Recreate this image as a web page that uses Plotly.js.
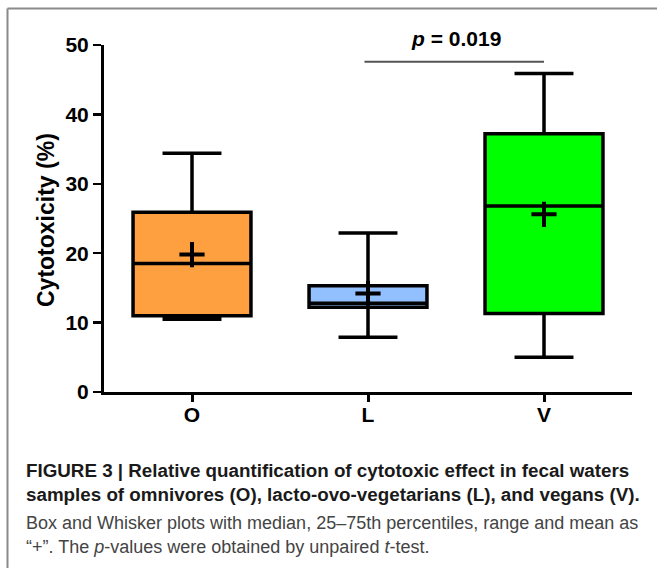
<!DOCTYPE html>
<html>
<head>
<meta charset="utf-8">
<script src="https://cdn.plot.ly/plotly-3.0.1.min.js"></script>
<style>html,body{margin:0;padding:0;background:#fff;}#chart{width:657px;height:568px;}</style>
</head>
<body>
<div id="chart"></div>
<script>
// ---- data ----
const categories = ['O', 'L', 'V'];
const q1Values = [11.0, 12.2, 11.3];
const medianValues = [18.5, 12.8, 26.8];
const q3Values = [25.9, 15.3, 37.2];
const minValues = [10.5, 7.9, 5.0];
const maxValues = [34.4, 22.9, 45.9];
const meanValues = [19.8, 14.2, 25.6];
const fillColors = ['#FFA040', '#92C0FF', '#00FF00'];
const sigPair = ['L', 'V'];
const sigY = 47.6;
const sigLabel = '<i>p</i> = 0.019';
const yTitle = 'Cytotoxicity (%)';
const captionLines = [
  {text: 'FIGURE 3 | Relative quantification of cytotoxic effect in fecal waters', bold: true},
  {text: 'samples of omnivores (O), lacto-ovo-vegetarians (L), and vegans (V).', bold: true},
  {text: 'Box and Whisker plots with median, 25\u201375th percentiles, range and mean as', bold: false},
  {text: '\u201c+\u201d. The <i>p</i>-values were obtained by unpaired <i>t</i>-test.', bold: false}
];

// ---- layout helpers (pixel -> paper) ----
const W = 657, H = 568;
const M = {l: 104, r: 25, t: 45, b: 176};
const pw = W - M.l - M.r, ph = H - M.t - M.b;
const xp = px => (px - M.l) / pw;
const yp = py => (H - M.b - py) / ph;

const FONT = 'Liberation Sans, Arial, sans-serif';

const traces = categories.map((c, i) => ({
  type: 'box',
  x: [c],
  q1: [q1Values[i]],
  median: [medianValues[i]],
  q3: [q3Values[i]],
  lowerfence: [minValues[i]],
  upperfence: [maxValues[i]],
  fillcolor: fillColors[i],
  line: {color: '#000', width: 3.5},
  width: 0.67,
  whiskerwidth: 0.5,
  boxpoints: false,
  showlegend: false,
  hoverinfo: 'skip'
}));

traces.push({
  type: 'scatter',
  mode: 'markers',
  x: categories,
  y: meanValues,
  marker: {symbol: 'cross-thin', size: 18, line: {color: '#000', width: 4}, color: '#000'},
  showlegend: false,
  hoverinfo: 'skip'
});

const capY = [470, 494, 523, 547];
const annotations = [
  {
    xref: 'paper', yref: 'paper', x: xp(46), y: yp(220),
    text: yTitle, textangle: -90, showarrow: false,
    font: {family: FONT, size: 23, color: '#000', weight: 'bold'},
    xanchor: 'center', yanchor: 'middle'
  },
  {
    xref: 'x', yref: 'y',
    x: (categories.indexOf(sigPair[0]) + categories.indexOf(sigPair[1])) / 2,
    y: sigY, yanchor: 'bottom', yshift: 10,
    text: sigLabel, showarrow: false,
    font: {family: FONT, size: 21, color: '#000', weight: 'bold'}
  }
];
captionLines.forEach((ln, i) => {
  annotations.push({
    xref: 'paper', yref: 'paper', x: xp(24), y: yp(capY[i]),
    xanchor: 'left', yanchor: 'middle', showarrow: false, align: 'left',
    text: ln.bold ? '<b>' + ln.text + '</b>' : ln.text,
    font: ln.bold
      ? {family: FONT, size: 18.8, color: '#1a1a1a'}
      : {family: FONT, size: 18, color: '#444'}
  });
});

const layout = {
  width: W, height: H,
  margin: M,
  paper_bgcolor: '#fff', plot_bgcolor: '#fff',
  xaxis: {
    type: 'category', categoryorder: 'array', categoryarray: categories,
    range: [-0.5, 2.5],
    showline: true, linecolor: '#000', linewidth: 3,
    ticks: 'outside', ticklen: 7, tickwidth: 3, tickcolor: '#000',
    ticklabelstandoff: -5,
    showgrid: false, zeroline: false,
    tickfont: {family: FONT, size: 21, color: '#000', weight: 'bold'}
  },
  yaxis: {
    range: [0, 50], dtick: 10, tick0: 0,
    showline: true, linecolor: '#000', linewidth: 3,
    ticks: 'outside', ticklen: 8, tickwidth: 2.5, tickcolor: '#000',
    showgrid: false, zeroline: false,
    tickfont: {family: FONT, size: 21, color: '#000', weight: 'bold'}
  },
  shapes: [
    {
      type: 'line', xref: 'x', yref: 'y',
      x0: categories.indexOf(sigPair[0]) - 0.02, x1: categories.indexOf(sigPair[1]),
      y0: sigY, y1: sigY,
      line: {color: '#555', width: 2}
    },
    {
      type: 'line', xref: 'paper', yref: 'paper',
      x0: xp(7.5), x1: xp(660), y0: yp(8.5), y1: yp(8.5),
      line: {color: '#8a8a8a', width: 2}, layer: 'below'
    },
    {
      type: 'line', xref: 'paper', yref: 'paper',
      x0: xp(7.5), x1: xp(7.5), y0: yp(8.5), y1: yp(570),
      line: {color: '#8a8a8a', width: 2}, layer: 'below'
    }
  ],
  annotations: annotations,
  showlegend: false
};

Plotly.newPlot('chart', traces, layout, {displayModeBar: false, staticPlot: true});
</script>
</body>
</html>
